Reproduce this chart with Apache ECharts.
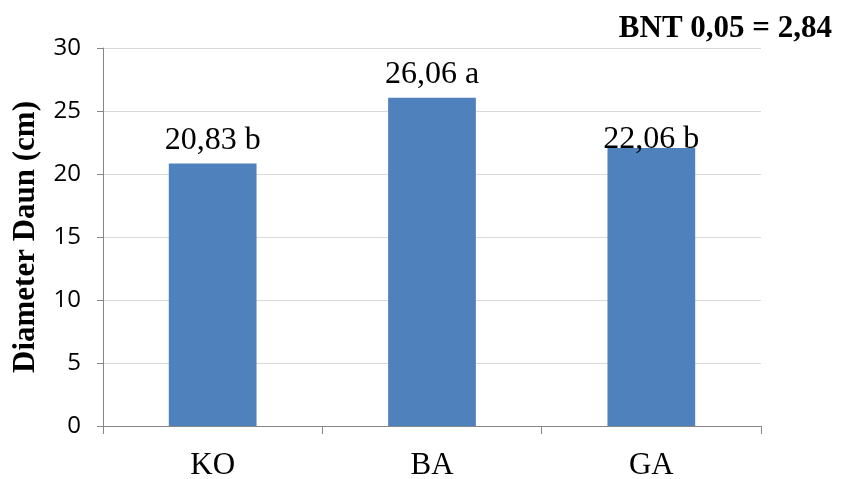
<!DOCTYPE html>
<html><head><meta charset="utf-8">
<script src="https://cdn.jsdelivr.net/npm/echarts@6/dist/echarts.min.js"></script>
<style>html,body{margin:0;padding:0;background:#fff}#c{width:842px;height:479px}</style>
</head><body><div id="c"></div>
<script>
const categories = ['KO', 'BA', 'GA'];
const values = [20.83, 26.06, 22.06];
const labels = ['20,83 b', '26,06 a', '22,06 b'];
const labelDistance = [7, 7, -8];
const yTicks = [0, 5, 10, 15, 20, 25, 30];

const chart = echarts.init(document.getElementById('c'));
chart.setOption({
  animation: false,
  backgroundColor: '#fff',
  title: {
    text: 'BNT 0,05 = 2,84', right: 5, top: 8,
    textStyle: {fontFamily: 'Liberation Serif', fontWeight: 'bold', fontSize: 31, color: '#000'}
  },
  grid: {left: 103, right: 81, top: 48, bottom: 53, outerBoundsMode: 'none', containLabel: false},
  xAxis: {
    type: 'category', data: categories,
    axisLine: {lineStyle: {color: '#868686', width: 1}},
    axisTick: {show: true, length: 8, lineStyle: {color: '#868686'}},
    axisLabel: {fontFamily: 'Liberation Serif', fontSize: 31, color: '#000', margin: 24}
  },
  yAxis: {
    type: 'value', min: yTicks[0], max: yTicks[yTicks.length - 1], interval: 5,
    name: 'Diameter Daun (cm)', nameLocation: 'middle', nameGap: 62, nameRotate: 90,
    nameTextStyle: {fontFamily: 'Liberation Serif', fontWeight: 'bold', fontSize: 31, color: '#000'},
    axisLine: {show: true, lineStyle: {color: '#868686', width: 1}},
    axisTick: {show: true, length: 6, lineStyle: {color: '#868686'}},
    axisLabel: {fontFamily: 'Open Sans', fontSize: 24, color: '#000', margin: 22},
    splitLine: {lineStyle: {color: '#d9d9d9', width: 1}}
  },
  series: [{
    type: 'bar', barWidth: '40%',
    data: values.map((v, i) => ({
      value: v,
      label: {show: true, position: 'top', distance: labelDistance[i], formatter: labels[i],
        fontFamily: 'Liberation Serif', fontSize: 32, color: '#000'}
    })),
    itemStyle: {color: '#4f81bd'}
  }]
});
</script></body></html>
